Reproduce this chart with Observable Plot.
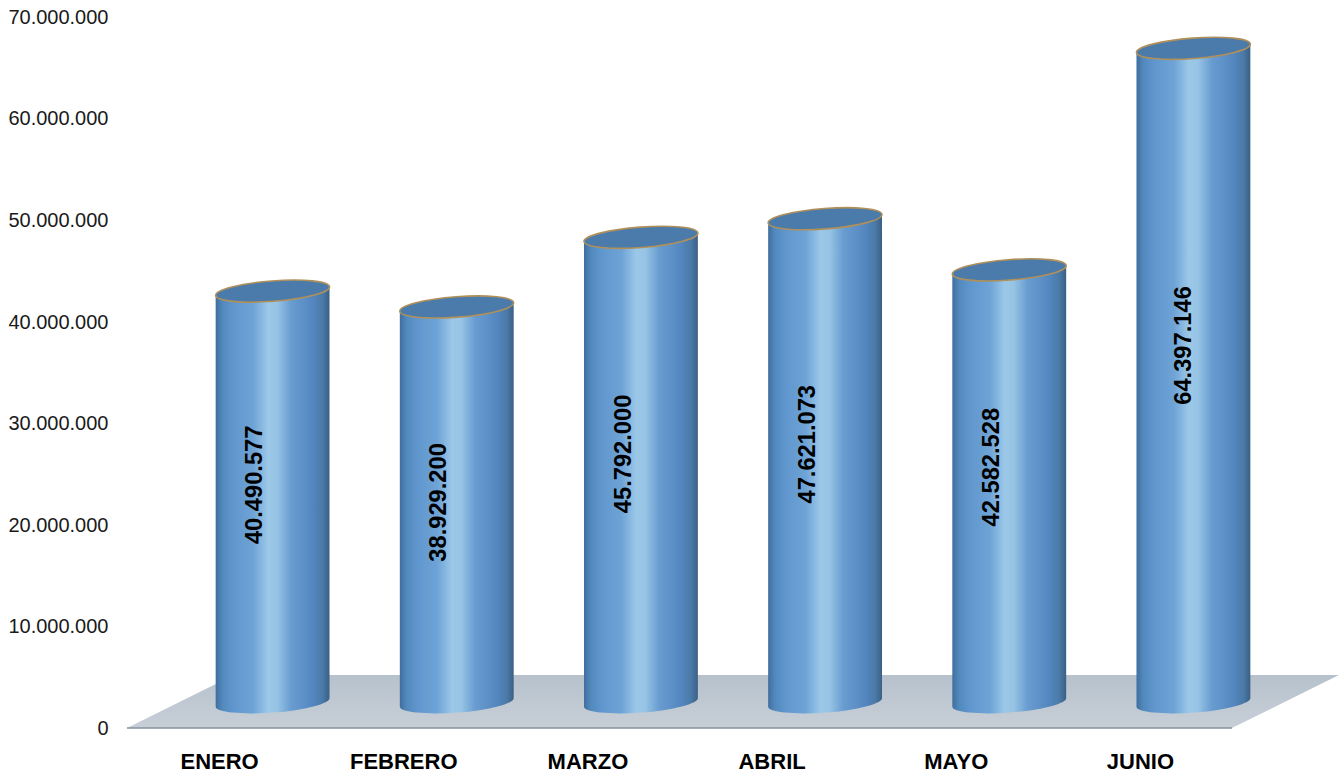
<!DOCTYPE html>
<html>
<head>
<meta charset="utf-8">
<script src="https://cdn.jsdelivr.net/npm/d3@7"></script>
<script src="https://cdn.jsdelivr.net/npm/@observablehq/plot@0.6"></script>
<style>
html,body{margin:0;padding:0;background:#fff;}
svg{display:block;}
</style>
</head>
<body>
<div id="chart"></div>
<script>
const months = ["ENERO", "FEBRERO", "MARZO", "ABRIL", "MAYO", "JUNIO"];
const amounts = [40490577, 38929200, 45792000, 47621073, 42582528, 64397146];
const yTicks = [0, 10000000, 20000000, 30000000, 40000000, 50000000, 60000000, 70000000];

const rows = months.map((month, i) => ({month, value: amounts[i]}));
const fmt = d3.formatLocale({decimal: ",", thousands: ".", grouping: [3], currency: ["", ""]}).format(",d");

const depthX = 107, depthY = 53, liftY = 25.6;
const SVGNS = "http://www.w3.org/2000/svg";
const el = (name, attrs, parent) => {
  const n = document.createElementNS(SVGNS, name);
  for (const k in attrs) n.setAttribute(k, attrs[k]);
  if (parent) parent.appendChild(n);
  return n;
};

function floorMark(index, {y}, channels, {width, marginLeft, marginRight}) {
  const g = el("g", {});
  const defs = el("defs", {}, g);
  const grad = el("linearGradient", {id: "floor", x1: 0, x2: 0, y1: 0, y2: 1}, defs);
  [[0, "#b6c1cc"], [0.6, "#c1cad3"], [1, "#c6ced6"]]
    .forEach(([o, c]) => el("stop", {offset: o, "stop-color": c}, grad));
  const y0 = y(0), x0 = marginLeft, x1 = width - marginRight;
  el("path", {
    d: `M${x0},${y0}L${x1},${y0}L${x1 + depthX},${y0 - depthY}L${x0 + depthX},${y0 - depthY}Z`,
    fill: "url(#floor)"
  }, g);
  el("path", {d: `M${x0},${y0}L${x1},${y0}`, stroke: "#86929e", "stroke-width": 1.5, fill: "none"}, g);
  return g;
}

function cylinderRender(index, {x, y}, channels, dims) {
  const g = el("g", {});
  const defs = el("defs", {}, g);
  const grad = el("linearGradient", {id: "cyl", x1: 0, x2: 1, y1: 0, y2: 0}, defs);
  [[0, "#3f6e9e"], [0.06, "#5289bd"], [0.16, "#6097ce"], [0.33, "#6ea3d6"], [0.46, "#9cc8e8"],
   [0.54, "#97c3e4"], [0.66, "#699dd1"], [0.85, "#5487bf"], [0.94, "#4a7aa8"], [1, "#3b5f84"]]
    .forEach(([o, c]) => el("stop", {offset: o, "stop-color": c}, grad));
  const step = x(months[1]) - x(months[0]);
  const rx = 0.31 * step, ry = 10.2, tilt = 4.3 * Math.PI / 180;
  const cosT = Math.cos(tilt), sinT = Math.sin(tilt);
  for (const i of index) {
    const cx = x(rows[i].month) + step / 2 + depthX / 2;
    const yb = y(0) - liftY;
    const yt = y(rows[i].value) - liftY;
    const lx = cx - rx * cosT, rxp = cx + rx * cosT, dyE = rx * sinT;
    el("path", {
      d: `M${lx},${yt + dyE}L${lx},${yb + dyE}A${rx},${ry} -4.3 0 0 ${rxp},${yb - dyE}L${rxp},${yt - dyE}A${rx},${ry} -4.3 0 1 ${lx},${yt + dyE}Z`,
      fill: "url(#cyl)"
    }, g);
    el("ellipse", {
      cx, cy: yt, rx, ry,
      transform: `rotate(-4.3 ${cx} ${yt})`,
      fill: "#4a7bab", stroke: "#b0905a", "stroke-width": 1.6
    }, g);
  }
  return g;
}

// Per-label drawing offsets of the rotated value labels (styling, not data).
const labelDx = {JUNIO: 8}, labelDy = {FEBRERO: 8.5, ABRIL: 1, MAYO: -5.5};

const chart = Plot.plot({
  width: 1339,
  height: 772,
  marginLeft: 127,
  marginRight: 107,
  marginTop: 17,
  marginBottom: 44,
  style: {fontFamily: "'Liberation Sans', Arial, sans-serif", background: "#fff", color: "#000", overflow: "visible"},
  x: {domain: months, padding: 0, round: false, label: null},
  y: {domain: [0, 70000000], label: null},
  marks: [
    floorMark,
    Plot.barY(rows, {x: "month", y: "value", render: cylinderRender}),
    Plot.axisY({ticks: yTicks, tickFormat: fmt, tickSize: 0, tickPadding: 19, fontSize: 20, label: null, fill: "#1a1a1a"}),
    Plot.axisX({tickSize: 0, tickPadding: 25, fontSize: 22, fontWeight: "bold", label: null, fill: "#000"}),
    ...rows.map(r => Plot.text([r], {
      x: "month",
      y: d => d.value * 0.574,
      text: d => fmt(d.value),
      rotate: -90,
      dx: 35 + (labelDx[r.month] || 0),
      dy: -7.6 + (labelDy[r.month] || 0),
      fontSize: 23.7,
      fontWeight: "bold",
      fill: "#000"
    }))
  ]
});
document.getElementById("chart").appendChild(chart);
</script>
</body>
</html>
